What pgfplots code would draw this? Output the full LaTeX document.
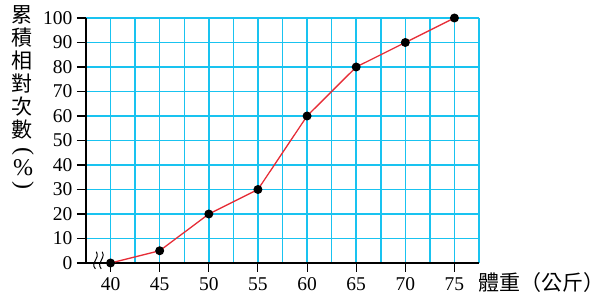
\documentclass[border=0pt]{standalone}
\usepackage{pgfplots}
\pgfplotsset{compat=1.18}
\usepackage{fontspec}
\setmainfont{Liberation Serif}
\newfontfamily\cjk{Noto Sans CJK TC}
\definecolor{gridblue}{RGB}{25,195,240}
\definecolor{linered}{RGB}{230,45,55}
\begin{document}
\begin{tikzpicture}[x=1pt,y=1pt]
\useasboundingbox (-86,-41) rectangle (518,263);
\begin{axis}[
  at={(0,0)}, anchor=origin,
  scale only axis, width=393pt, height=245pt,
  xmin=37.5, xmax=77.5, ymin=0, ymax=100,
  axis x line*=bottom, axis y line*=left,
  axis line style={black, line width=1.3pt, -},
  xtick={40,45,...,75}, ytick={0,10,...,100},
  minor xtick={37.5,42.5,...,77.5},
  grid=both,
  major grid style={gridblue, line width=1.5pt},
  minor grid style={gridblue, line width=1.5pt},
  tick style={black, line width=1.1pt},
  tick align=outside, major tick length=9pt, minor tick length=0pt,
  tick label style={font=\fontsize{19.5}{19.5}\selectfont},
  /pgf/number format/assume math mode=true,
  xticklabel style={yshift=-2pt},
  yticklabel style={xshift=-1pt},
  clip=false,
]
\addplot[linered, line width=1.3pt, mark=*, mark size=3.8pt,
  mark options={black, fill=black}]
  coordinates {(40,0) (45,5) (50,20) (55,30) (60,60) (65,80) (70,90) (75,100)};
\draw[black, line width=1pt]
  (axis cs:38.45,-2.4) .. controls (axis cs:37.9,0.5) and (axis cs:38.95,1.5) .. (axis cs:38.55,4.6);
\draw[black, line width=1pt]
  (axis cs:39.05,-2.4) .. controls (axis cs:38.5,0.5) and (axis cs:39.55,1.5) .. (axis cs:39.15,4.6);
\end{axis}
\node[anchor=north, inner sep=0pt, font=\cjk\fontsize{21}{23}\selectfont, align=center]
  at (-64,258) {累\\積\\相\\對\\次\\數};
\node[inner sep=0pt, rotate=-90, font=\fontsize{24}{24}\selectfont] at (-63,112) {(};
\node[inner sep=0pt, font=\fontsize{24}{24}\selectfont] at (-63,95) {\%};
\node[inner sep=0pt, rotate=-90, font=\fontsize{24}{24}\selectfont] at (-63,78) {)};
\node[anchor=west, inner sep=0pt, font=\cjk\fontsize{21}{21}\selectfont]
  at (392,-20) {體重（公斤）};
\end{tikzpicture}
\end{document}
